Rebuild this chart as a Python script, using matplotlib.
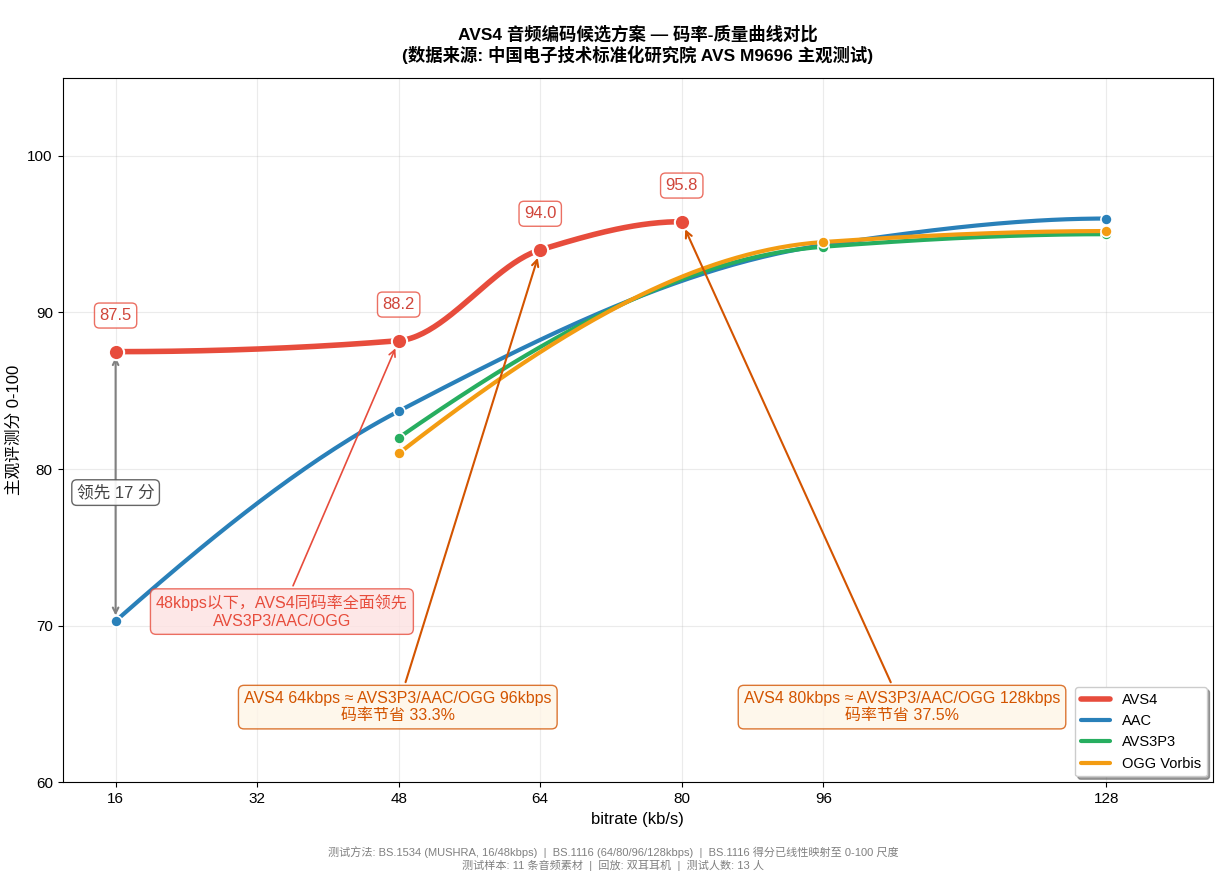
import numpy as np
import matplotlib
matplotlib.use("Agg")
import matplotlib.pyplot as plt

plt.rcParams['font.family'] = ['Liberation Sans', 'Noto Sans CJK SC', 'DejaVu Sans']
plt.rcParams['axes.unicode_minus'] = False

# ---------------------------------------------------------------------------
# data
# ---------------------------------------------------------------------------
avs4_x = [16, 48, 64, 80]
avs4_y = [87.5, 88.2, 94.0, 95.8]
aac_x = [16, 48, 96, 128]
aac_y = [70.3, 83.7, 94.3, 96.0]
avs3_x = [48, 96, 128]
avs3_y = [82.0, 94.2, 95.0]
ogg_x = [48, 96, 128]
ogg_y = [81.0, 94.5, 95.2]

x_ticks = [16, 32, 48, 64, 80, 96, 128]

C_AVS4 = '#e74c3c'
C_AAC = '#2980b9'
C_AVS3 = '#27ae60'
C_OGG = '#f39c12'
C_NOTE = '#d35400'


def pchip(x, y, n=200):
    """monotone cubic (same rule as scipy PchipInterpolator), for drawing only"""
    x = np.asarray(x, float)
    y = np.asarray(y, float)
    h = np.diff(x)
    m = np.diff(y) / h
    d = np.zeros_like(y)
    for k in range(1, len(x) - 1):
        if m[k - 1] * m[k] <= 0:
            d[k] = 0.0
        else:
            w1 = 2 * h[k] + h[k - 1]
            w2 = h[k] + 2 * h[k - 1]
            d[k] = (w1 + w2) / (w1 / m[k - 1] + w2 / m[k])

    def edge(h0, h1, m0, m1):
        dd = ((2 * h0 + h1) * m0 - h0 * m1) / (h0 + h1)
        if np.sign(dd) != np.sign(m0):
            return 0.0
        if np.sign(m0) != np.sign(m1) and abs(dd) > abs(3 * m0):
            return 3 * m0
        return dd

    d[0] = edge(h[0], h[1], m[0], m[1])
    d[-1] = edge(h[-1], h[-2], m[-1], m[-2])
    xs = np.linspace(x[0], x[-1], n)
    ys = np.empty_like(xs)
    for i, xv in enumerate(xs):
        k = min(np.searchsorted(x, xv, side='right') - 1, len(x) - 2)
        t = (xv - x[k]) / h[k]
        h00 = 2 * t**3 - 3 * t**2 + 1
        h10 = t**3 - 2 * t**2 + t
        h01 = -2 * t**3 + 3 * t**2
        h11 = t**3 - t**2
        ys[i] = h00 * y[k] + h10 * h[k] * d[k] + h01 * y[k + 1] + h11 * h[k] * d[k + 1]
    return xs, ys


fig = plt.figure(figsize=(12.26, 8.92), dpi=100)
ax = fig.add_axes([0.051, 0.123, 0.938, 0.790])

series = [
    ('AAC', aac_x, aac_y, C_AAC, 3.0, 8, 3),
    ('AVS3P3', avs3_x, avs3_y, C_AVS3, 3.0, 8, 4),
    ('OGG Vorbis', ogg_x, ogg_y, C_OGG, 3.0, 8, 5),
]

xs, ys = pchip(avs4_x, avs4_y)
ax.plot(xs, ys, color=C_AVS4, lw=4, label='AVS4', zorder=6, solid_capstyle='round')
ax.plot(avs4_x, avs4_y, 'o', color=C_AVS4, ms=11, mec='white', mew=1.5, zorder=7)
for name, sx, sy, col, lw, ms, z in series:
    xs, ys = pchip(sx, sy)
    ax.plot(xs, ys, color=col, lw=lw, label=name, zorder=z, solid_capstyle='round')
    ax.plot(sx, sy, 'o', color=col, ms=ms, mec='white', mew=1.2, zorder=z + 0.5)

# value labels above AVS4 points
for xv, yv in zip(avs4_x, avs4_y):
    ax.annotate(f'{yv:.1f}', (xv, yv), xytext=(0, 26), textcoords='offset points',
                ha='center', va='center', fontsize=12, color='#d0453a',
                bbox=dict(boxstyle='round,pad=0.3', fc='white', ec=C_AVS4, alpha=0.8),
                zorder=8)

# lead at 16 kbps
ax.annotate('', xy=(16, aac_y[0]), xytext=(16, avs4_y[0]),
            arrowprops=dict(arrowstyle='<->', color='gray', lw=1.5,
                            shrinkA=4, shrinkB=4), zorder=2)
ax.text(16, 78.5, '领先 17 分', ha='center', va='center', fontsize=12, color='#444444',
        bbox=dict(boxstyle='round,pad=0.3', fc='white', ec='#555555', alpha=0.9), zorder=9)

ax.annotate('48kbps以下，AVS4同码率全面领先\nAVS3P3/AAC/OGG', xy=(48, avs4_y[1]),
            xytext=(34.8, 70.9), ha='center', va='center', fontsize=11.5, color=C_AVS4,
            bbox=dict(boxstyle='round,pad=0.35', fc='#fde2e2', ec=C_AVS4, alpha=0.8),
            arrowprops=dict(arrowstyle='->', color=C_AVS4, lw=1.2, shrinkB=6), zorder=9)

ax.annotate('AVS4 64kbps ≈ AVS3P3/AAC/OGG 96kbps\n码率节省 33.3%', xy=(64, avs4_y[2]),
            xytext=(47.9, 64.8), ha='center', va='center', fontsize=11.5, color=C_NOTE,
            bbox=dict(boxstyle='round,pad=0.35', fc='#fef5e7', ec=C_NOTE, alpha=0.8),
            arrowprops=dict(arrowstyle='->', color=C_NOTE, lw=1.5, shrinkB=6), zorder=9)

ax.annotate('AVS4 80kbps ≈ AVS3P3/AAC/OGG 128kbps\n码率节省 37.5%', xy=(80, avs4_y[3]),
            xytext=(104.9, 64.8), ha='center', va='center', fontsize=11.5, color=C_NOTE,
            bbox=dict(boxstyle='round,pad=0.35', fc='#fef5e7', ec=C_NOTE, alpha=0.8),
            arrowprops=dict(arrowstyle='->', color=C_NOTE, lw=1.5, shrinkB=6), zorder=9)

ax.set_xlim(10, 140)
ax.set_ylim(60, 105)
ax.set_xticks(x_ticks)
ax.set_xticklabels([str(t) for t in x_ticks])
ax.set_yticks([60, 70, 80, 90, 100])
ax.tick_params(labelsize=11)
ax.grid(True, alpha=0.25)
ax.set_xlabel('bitrate (kb/s)', fontsize=12)
ax.set_ylabel('主观评测分 0-100', fontsize=12)
ax.set_title('AVS4 音频编码候选方案 — 码率-质量曲线对比\n'
             '(数据来源: 中国电子技术标准化研究院 AVS M9696 主观测试)',
             fontsize=12.5, fontweight='bold', pad=12)

ax.legend(loc='lower right', fontsize=10.5, frameon=True, fancybox=True, shadow=True,
          framealpha=1.0, borderaxespad=0.4)

fig.text(0.5, 0.037,
         '测试方法: BS.1534 (MUSHRA, 16/48kbps)  |  BS.1116 (64/80/96/128kbps)  |  '
         'BS.1116 得分已线性映射至 0-100 尺度\n'
         '测试样本: 11 条音频素材  |  回放: 双耳耳机  |  测试人数: 13 人',
         ha='center', va='center', fontsize=8, color='gray')

fig.savefig('out.png', dpi=100)
